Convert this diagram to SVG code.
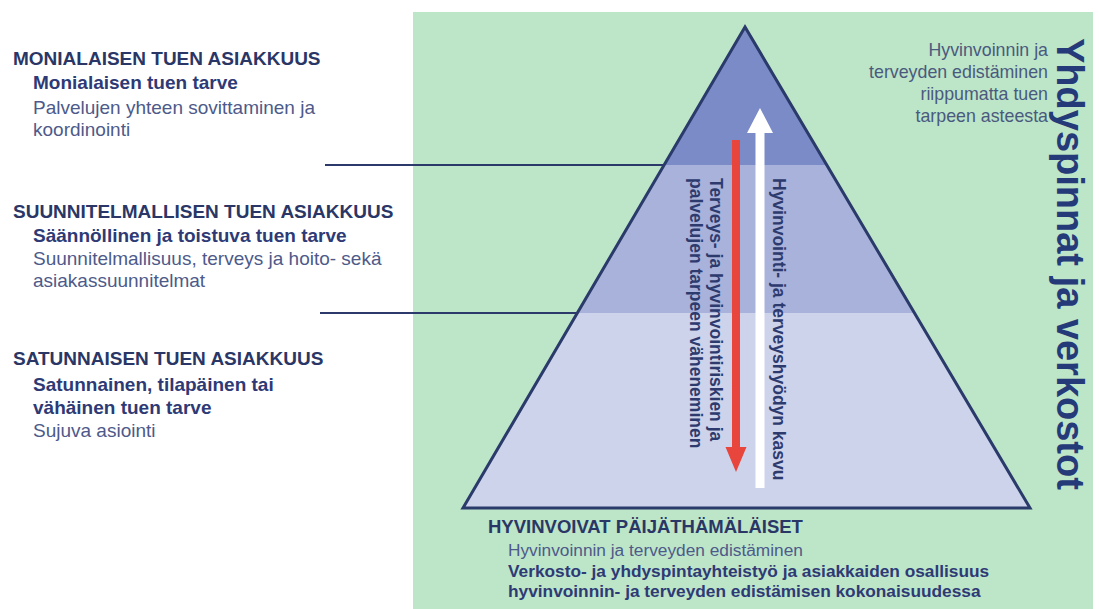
<svg xmlns="http://www.w3.org/2000/svg" width="1099" height="609" viewBox="0 0 1099 609">
<style>
text{font-family:"Liberation Sans",Arial,sans-serif}
.h{font-weight:bold;font-size:19px;fill:#2a3766}
.b{font-weight:bold;font-size:19px;fill:#2e3a75}
.r{font-size:19px;fill:#4d5a8a}
.rt{font-size:17.8px;fill:#4a5a7e;text-anchor:end}
.v{font-weight:bold;font-size:17.5px;fill:#2d3a6e}
.lead{stroke:#2b3a6a;stroke-width:2;fill:none}
</style>
<defs>
<clipPath id="tri"><polygon points="745,27 463,508 1030,508"/></clipPath>
</defs>
<rect width="1099" height="609" fill="#ffffff"/>
<rect id="bg" x="413" y="12" width="680" height="597" fill="#bde5c8"/>
<g id="pyramid">
<g clip-path="url(#tri)">
<rect x="440" y="20" width="620" height="145" fill="#7b8bc8"/>
<rect x="440" y="165" width="620" height="148" fill="#a9b2da"/>
<rect x="440" y="313" width="620" height="200" fill="#cdd3eb"/>
</g>
<polygon points="745,27 463,508 1030,508" fill="none" stroke="#2a3a6a" stroke-width="3" stroke-linejoin="miter"/>
</g>
<g id="connectors">
<line class="lead" x1="325" y1="165" x2="664" y2="165"/>
<line class="lead" x1="320" y1="313" x2="577" y2="313"/>
</g>
<g id="arrow-up">
<polygon points="760,108 747,133 755.5,133 755.5,488 764.5,488 764.5,133 773,133" fill="#ffffff"/>
</g>
<g id="arrow-down">
<polygon points="732,140 740,140 740,447 746.5,447 736,472 725.5,447 732,447" fill="#e8453c"/>
</g>
<g id="label-up">
<text class="v" x="773" y="178" transform="rotate(90 773 178)">Hyvinvointi- ja terveyshyödyn kasvu</text>
</g>
<g id="label-down">
<text class="v" x="710" y="178" transform="rotate(90 710 178)">Terveys- ja hyvinvointiriskien ja</text>
<text class="v" x="690" y="178" transform="rotate(90 690 178)">palvelujen tarpeen väheneminen</text>
</g>
<g id="monialainen">
<text class="h" x="13" y="65">MONIALAISEN TUEN ASIAKKUUS</text>
<text class="b" x="33" y="89">Monialaisen tuen tarve</text>
<text class="r" x="33" y="114">Palvelujen yhteen sovittaminen ja</text>
<text class="r" x="33" y="136">koordinointi</text>
</g>
<g id="suunnitelmallinen">
<text class="h" x="13" y="218">SUUNNITELMALLISEN TUEN ASIAKKUUS</text>
<text class="b" x="33" y="242">Säännöllinen ja toistuva tuen tarve</text>
<text class="r" x="33" y="265">Suunnitelmallisuus, terveys ja hoito- sekä</text>
<text class="r" x="33" y="287">asiakassuunnitelmat</text>
</g>
<g id="satunnainen">
<text class="h" x="13" y="365">SATUNNAISEN TUEN ASIAKKUUS</text>
<text class="b" x="33" y="391">Satunnainen, tilapäinen tai</text>
<text class="b" x="33" y="414">vähäinen tuen tarve</text>
<text class="r" x="33" y="437">Sujuva asiointi</text>
</g>
<g id="edistaminen">
<text class="rt" x="1048" y="56">Hyvinvoinnin ja</text>
<text class="rt" x="1048" y="78">terveyden edistäminen</text>
<text class="rt" x="1048" y="100">riippumatta tuen</text>
<text class="rt" x="1048" y="122">tarpeen asteesta</text>
</g>
<g id="yhdyspinnat">
<text x="1057" y="38" transform="rotate(90 1057 38)" style="font-weight:bold;font-size:38px;fill:#253a78">Yhdyspinnat ja verkostot</text>
</g>
<g id="hyvinvoivat">
<text class="h" x="488" y="533" style="font-size:18.5px">HYVINVOIVAT PÄIJÄTHÄMÄLÄISET</text>
<text class="r" x="508" y="556" style="font-size:17.3px">Hyvinvoinnin ja terveyden edistäminen</text>
<text class="b" x="508" y="577" style="font-size:17.3px">Verkosto- ja yhdyspintayhteistyö ja asiakkaiden osallisuus</text>
<text class="b" x="508" y="597" style="font-size:17.3px">hyvinvoinnin- ja terveyden edistämisen kokonaisuudessa</text>
</g>
</svg>
